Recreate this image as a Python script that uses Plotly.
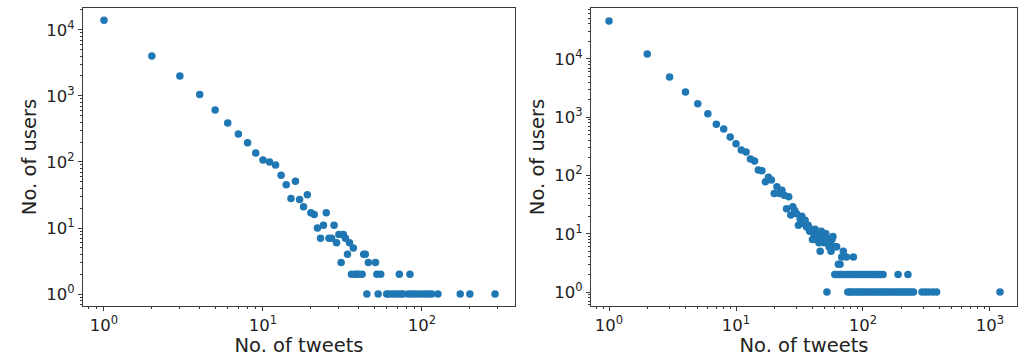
import plotly.graph_objects as go

# ---- data ----
left_tweets = [1, 2, 3, 4, 5, 6, 7, 8, 9, 10, 11, 12, 13, 14, 15, 16, 17, 18, 19, 20,
               21, 22, 23, 24, 25, 26, 27, 28, 29, 30, 31, 32, 33, 34, 35, 37,
               36, 38, 39, 40, 42, 52, 55, 72, 84,
               46, 51,
               43, 44,
               45, 53, 60, 62, 65, 68, 71, 74, 76, 82, 86, 90, 95, 100, 105, 110, 115,
               126, 174, 200, 288]
left_users = [14000, 4000, 2000, 1050, 610, 390, 265, 195, 137, 107, 100, 90, 63, 45, 28, 51, 27, 21, 32, 17,
              16, 10, 7, 11, 17, 7, 7, 11, 6, 8, 3, 8, 7, 4, 6, 5,
              2, 2, 2, 2, 2, 2, 2, 2, 2,
              3, 3,
              4, 4,
              1, 1, 1, 1, 1, 1, 1, 1, 1, 1, 1, 1, 1, 1, 1, 1, 1,
              1, 1, 1, 1]

right_tweets = [1, 2, 3, 4, 5, 6, 7, 8, 9, 10, 11, 12, 13, 14,
                15, 16, 17, 18, 19, 20, 21, 22, 23, 24, 25, 26, 27, 28, 29, 30,
                31, 32, 33, 34, 35, 36, 37, 38, 39, 40, 41, 42, 43, 44, 45, 46,
                47, 48, 49, 50, 51, 53, 54, 55, 56, 57, 58, 60, 62, 64, 66, 68,
                70, 74, 84,
                60, 63, 66, 69, 72, 75, 78, 81, 85, 88, 92, 96, 100, 104, 108, 113,
                118, 123, 128, 133, 138, 144, 189, 226,
                52, 76, 79, 82, 86, 90, 94, 98, 102, 107, 112, 117, 122, 128, 134, 140,
                146, 153, 160, 168, 176, 184, 192, 201, 210, 220, 230, 240, 250,
                292, 310, 330, 355, 380, 1200]
right_users = [45000, 12200, 4900, 2700, 1700, 1150, 760, 630, 460, 350, 275, 253, 192, 178,
               124, 121, 78, 93, 84, 49, 64, 49, 56, 46, 27, 43, 21, 29, 25, 22,
               14, 18, 20, 15, 17, 13, 14, 11, 12, 8, 10, 12, 8, 10, 7, 5,
               11, 9, 7, 9, 10, 8, 6, 7, 5, 8, 9, 6, 6, 3, 3, 4,
               5, 4, 4,
               2, 2, 2, 2, 2, 2, 2, 2, 2, 2, 2, 2, 2, 2, 2, 2,
               2, 2, 2, 2, 2, 2, 2, 2,
               1, 1, 1, 1, 1, 1, 1, 1, 1, 1, 1, 1, 1, 1, 1, 1,
               1, 1, 1, 1, 1, 1, 1, 1, 1, 1, 1, 1, 1,
               1, 1, 1, 1, 1, 1]

left_x_ticks = [1, 10, 100]
left_x_labels = ["10<sup>0</sup>", "10<sup>1</sup>", "10<sup>2</sup>"]
right_x_ticks = [1, 10, 100, 1000]
right_x_labels = ["10<sup>0</sup>", "10<sup>1</sup>", "10<sup>2</sup>", "10<sup>3</sup>"]
y_ticks = [1, 10, 100, 1000, 10000]
y_labels = ["10<sup>0</sup>", "10<sup>1</sup>", "10<sup>2</sup>", "10<sup>3</sup>", "10<sup>4</sup>"]

x_title = "No. of tweets"
y_title = "No. of users"

minor_vals = [m * 10 ** k for k in range(-1, 5) for m in range(2, 10)]

BLUE = "#1f77b4"
AX = "#3a3a3a"
FONT = "DejaVu Sans"
TXT = "#222"

fig = go.Figure()
fig.add_trace(go.Scatter(x=left_tweets, y=left_users, mode="markers",
                         marker=dict(color=BLUE, size=7.5, line=dict(width=0)),
                         xaxis="x", yaxis="y", showlegend=False))
fig.add_trace(go.Scatter(x=right_tweets, y=right_users, mode="markers",
                         marker=dict(color=BLUE, size=7.5, line=dict(width=0)),
                         xaxis="x2", yaxis="y2", showlegend=False))

W, H = 1020, 357


def axis_common():
    return dict(type="log", showgrid=False, zeroline=False, showline=True, mirror=True,
                linecolor=AX, linewidth=1, ticks="outside", ticklen=4, tickwidth=1,
                tickcolor=AX, tickmode="array", automargin=False,
                tickfont=dict(family=FONT, size=16.5, color=TXT),
                minor=dict(tickmode="array", tickvals=minor_vals, ticks="outside",
                           ticklen=2, tickcolor=AX, tickwidth=0.8, showgrid=False))


def title(text, standoff):
    return dict(text=text, font=dict(family=FONT, size=19.5, color=TXT), standoff=standoff)


ydom = [(H - 306) / H, (H - 8) / H]

fig.update_layout(
    width=W, height=H,
    margin=dict(l=0, r=0, t=0, b=0, autoexpand=False),
    paper_bgcolor="white", plot_bgcolor="white",
    font=dict(family=FONT, color=TXT),
    xaxis=dict(**axis_common(), domain=[83 / W, 515 / W], range=[-0.132, 2.585],
               tickvals=left_x_ticks, ticktext=left_x_labels, anchor="y",
               title=title(x_title, 4)),
    yaxis=dict(**axis_common(), domain=ydom, range=[-0.18, 4.33],
               tickvals=y_ticks, ticktext=y_labels, anchor="x",
               title=title(y_title, 4)),
    xaxis2=dict(**axis_common(), domain=[591 / W, 1017 / W], range=[-0.142, 3.213],
                tickvals=right_x_ticks, ticktext=right_x_labels, anchor="y2",
                title=title(x_title, 4)),
    yaxis2=dict(**axis_common(), domain=ydom, range=[-0.24, 4.875],
                tickvals=y_ticks, ticktext=y_labels, anchor="x2",
                title=title(y_title, 4)),
)

fig.write_html("out.html", config={"displayModeBar": False},
               post_script="document.body.style.margin='0';document.body.style.overflow='hidden';")
